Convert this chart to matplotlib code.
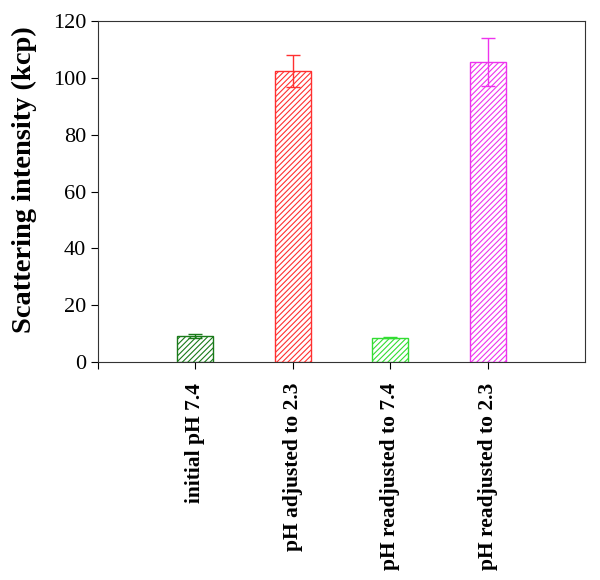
import numpy as np
import matplotlib.pyplot as plt

plt.rcParams['font.family'] = ['Liberation Serif', 'DejaVu Serif']
plt.rcParams['hatch.linewidth'] = 0.8

labels = ["initial pH 7.4", "pH adjusted to 2.3", "pH readjusted to 7.4", "pH readjusted to 2.3"]
intensity = [9.2, 102.6, 8.5, 105.8]
err = [0.8, 5.7, 0.2, 8.4]
colors = ["#1a7a1a", "#ff3030", "#33dd33", "#ee33ee"]

fig = plt.figure(figsize=(6, 5.8), dpi=100)
ax = fig.add_axes([0.163, 0.376, 0.812, 0.587])

x = np.arange(1, len(labels) + 1)
for i in range(len(labels)):
    ax.bar(x[i], intensity[i], width=0.37, color="none", edgecolor=colors[i],
           hatch="//////", linewidth=1.0)
    ax.errorbar(x[i], intensity[i], yerr=err[i], color=colors[i], capsize=5,
                elinewidth=1.0, capthick=1.0, fmt="none")

ax.set_xlim(0, 5)
ax.set_ylim(0, 120)
ax.set_yticks(np.arange(0, 121, 20))
ax.set_xticks([0] + list(x))
ax.set_xticklabels([""] + labels, rotation=90, fontweight="bold", fontsize=15.5)
ax.tick_params(axis="y", labelsize=16, direction="out", length=5)
ax.tick_params(axis="x", direction="out", length=5, pad=10)
ax.set_ylabel("Scattering intensity (kcp)", fontweight="bold", fontsize=20.5)
ax.yaxis.set_label_coords(-0.125, 0.535)
for s in ax.spines.values():
    s.set_color("#333333")

plt.savefig("out.png")
